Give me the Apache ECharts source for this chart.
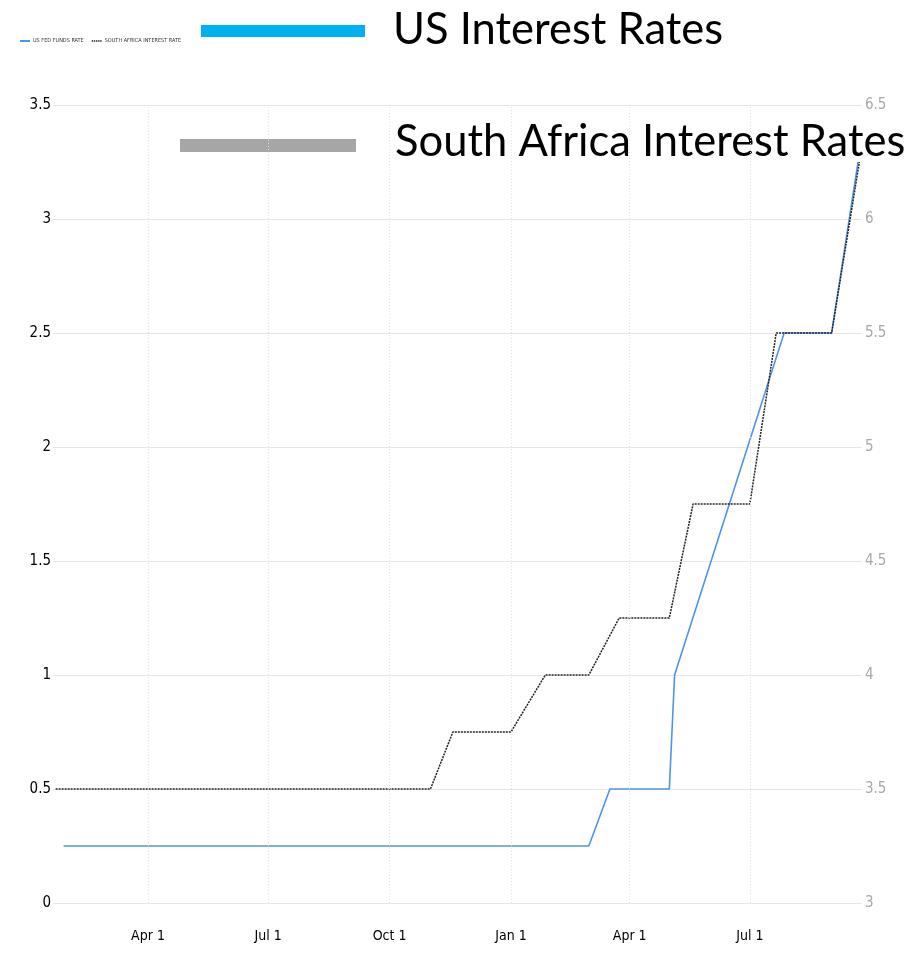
<!DOCTYPE html>
<html>
<head>
<meta charset="utf-8">
<script src="https://cdn.jsdelivr.net/npm/echarts@6/dist/echarts.min.js"></script>
<style>html,body{margin:0;padding:0;background:#fff}#c{width:924px;height:959px}</style>
</head>
<body>
<div id="c"></div>
<script>
const usDates = ['2021-01-27','2022-03-01','2022-03-17','2022-05-01','2022-05-05','2022-07-27','2022-09-01','2022-09-21'];
const usRates = [0.25, 0.25, 0.5, 0.5, 1.0, 2.5, 2.5, 3.25];
const saDates = ['2021-01-21','2021-11-01','2021-11-18','2022-01-01','2022-01-27','2022-03-01','2022-03-24','2022-05-01','2022-05-19','2022-07-01','2022-07-21','2022-09-01','2022-09-22'];
const saRates = [3.5, 3.5, 3.75, 3.75, 4.0, 4.0, 4.25, 4.25, 4.75, 4.75, 5.5, 5.5, 6.25];
const xTicks = ['2021-04-01','2021-07-01','2021-10-01','2022-01-01','2022-04-01','2022-07-01'];
const tickNames = ['Apr 1','Jul 1','Oct 1','Jan 1','Apr 1','Jul 1'];
const seriesNames = ['US FED FUNDS RATE','SOUTH AFRICA INTEREST RATE'];
const bigLegend = ['US Interest Rates','South Africa Interest Rates'];

const NARROW = '"Liberation Sans Narrow","DejaVu Sans Condensed","Roboto",sans-serif';
const toT = d => Date.UTC(+d.slice(0,4), +d.slice(5,7) - 1, +d.slice(8,10)) / 86400000;
const tickTimes = xTicks.map(toT);
const BIG = '43.5px Lato, "Open Sans", sans-serif';

const chart = echarts.init(document.getElementById('c'));
chart.setOption({
  animation: false,
  backgroundColor: '#fff',
  legend: {
    left: 15, top: 33, itemWidth: 10, itemHeight: 2, itemGap: 8,
    textStyle: { fontSize: 5.5, fontFamily: NARROW, color: '#333', padding: [0, 0, 0, -2] },
    data: [
      { name: seriesNames[0], icon: 'rect', itemStyle: { color: '#4d94ec' } },
      { name: seriesNames[1], icon: 'path://M0,0h2v2h-2z M3,0h2v2h-2z M6,0h2v2h-2z M9,0h2v2h-2z M12,0h2v2h-2z', itemStyle: { color: '#222' } }
    ]
  },
  grid: { left: 53, right: 62, top: 105, bottom: 56, containLabel: false },
  xAxis: {
    type: 'value',
    min: toT('2021-01-19'),
    max: toT('2022-09-24'),
    axisLine: { show: false },
    axisTick: { show: false, customValues: tickTimes },
    splitLine: { show: false },
    axisLabel: {
      customValues: tickTimes,
      formatter: v => { const i = tickTimes.indexOf(v); return i >= 0 ? tickNames[i] : ''; },
      fontFamily: NARROW, fontSize: 14, color: '#000', margin: 26
    }
  },
  yAxis: [
    {
      type: 'value', min: 0, max: 3.5, interval: 0.5, position: 'left',
      axisLine: { show: false }, axisTick: { show: false },
      splitLine: { lineStyle: { color: '#e6e6e6', width: 1 } },
      axisLabel: { fontFamily: NARROW, fontSize: 15, color: '#000', margin: 2 }
    },
    {
      type: 'value', min: 3, max: 6.5, interval: 0.5, position: 'right',
      axisLine: { show: false }, axisTick: { show: false },
      splitLine: { show: false },
      axisLabel: { fontFamily: NARROW, fontSize: 15, color: '#a8a8a8', margin: 3 }
    }
  ],
  series: [
    {
      name: seriesNames[0], type: 'line', yAxisIndex: 0, showSymbol: false, symbol: 'none',
      lineStyle: { color: '#4d94ec', width: 1.6 },
      itemStyle: { color: '#4d94ec' },
      data: usDates.map((d, i) => [toT(d), usRates[i]]),
      markLine: {
        silent: true, symbol: 'none', label: { show: false },
        lineStyle: { color: '#e2e2e2', type: [1, 2], width: 1 },
        data: tickTimes.map(t => ({ xAxis: t }))
      },
      z: 2
    },
    {
      name: seriesNames[1], type: 'line', yAxisIndex: 1, showSymbol: false, symbol: 'none',
      lineStyle: { color: '#222', width: 1.5, type: [2, 1] },
      itemStyle: { color: '#222' },
      data: saDates.map((d, i) => [toT(d), saRates[i]]),
      z: 3
    }
  ],
  graphic: [
    { type: 'rect', shape: { x: 201, y: 25, width: 164, height: 12 }, style: { fill: '#00b0f0' } },
    { type: 'text', x: 393, y: 30, style: { text: bigLegend[0], font: BIG, fill: '#000', textVerticalAlign: 'middle' } },
    { type: 'rect', shape: { x: 180, y: 139, width: 176, height: 13 }, style: { fill: '#a6a6a6' } },
    { type: 'text', x: 395, y: 142, style: { text: bigLegend[1], font: BIG, fill: '#000', textVerticalAlign: 'middle' } }
  ]
});
</script>
</body>
</html>
